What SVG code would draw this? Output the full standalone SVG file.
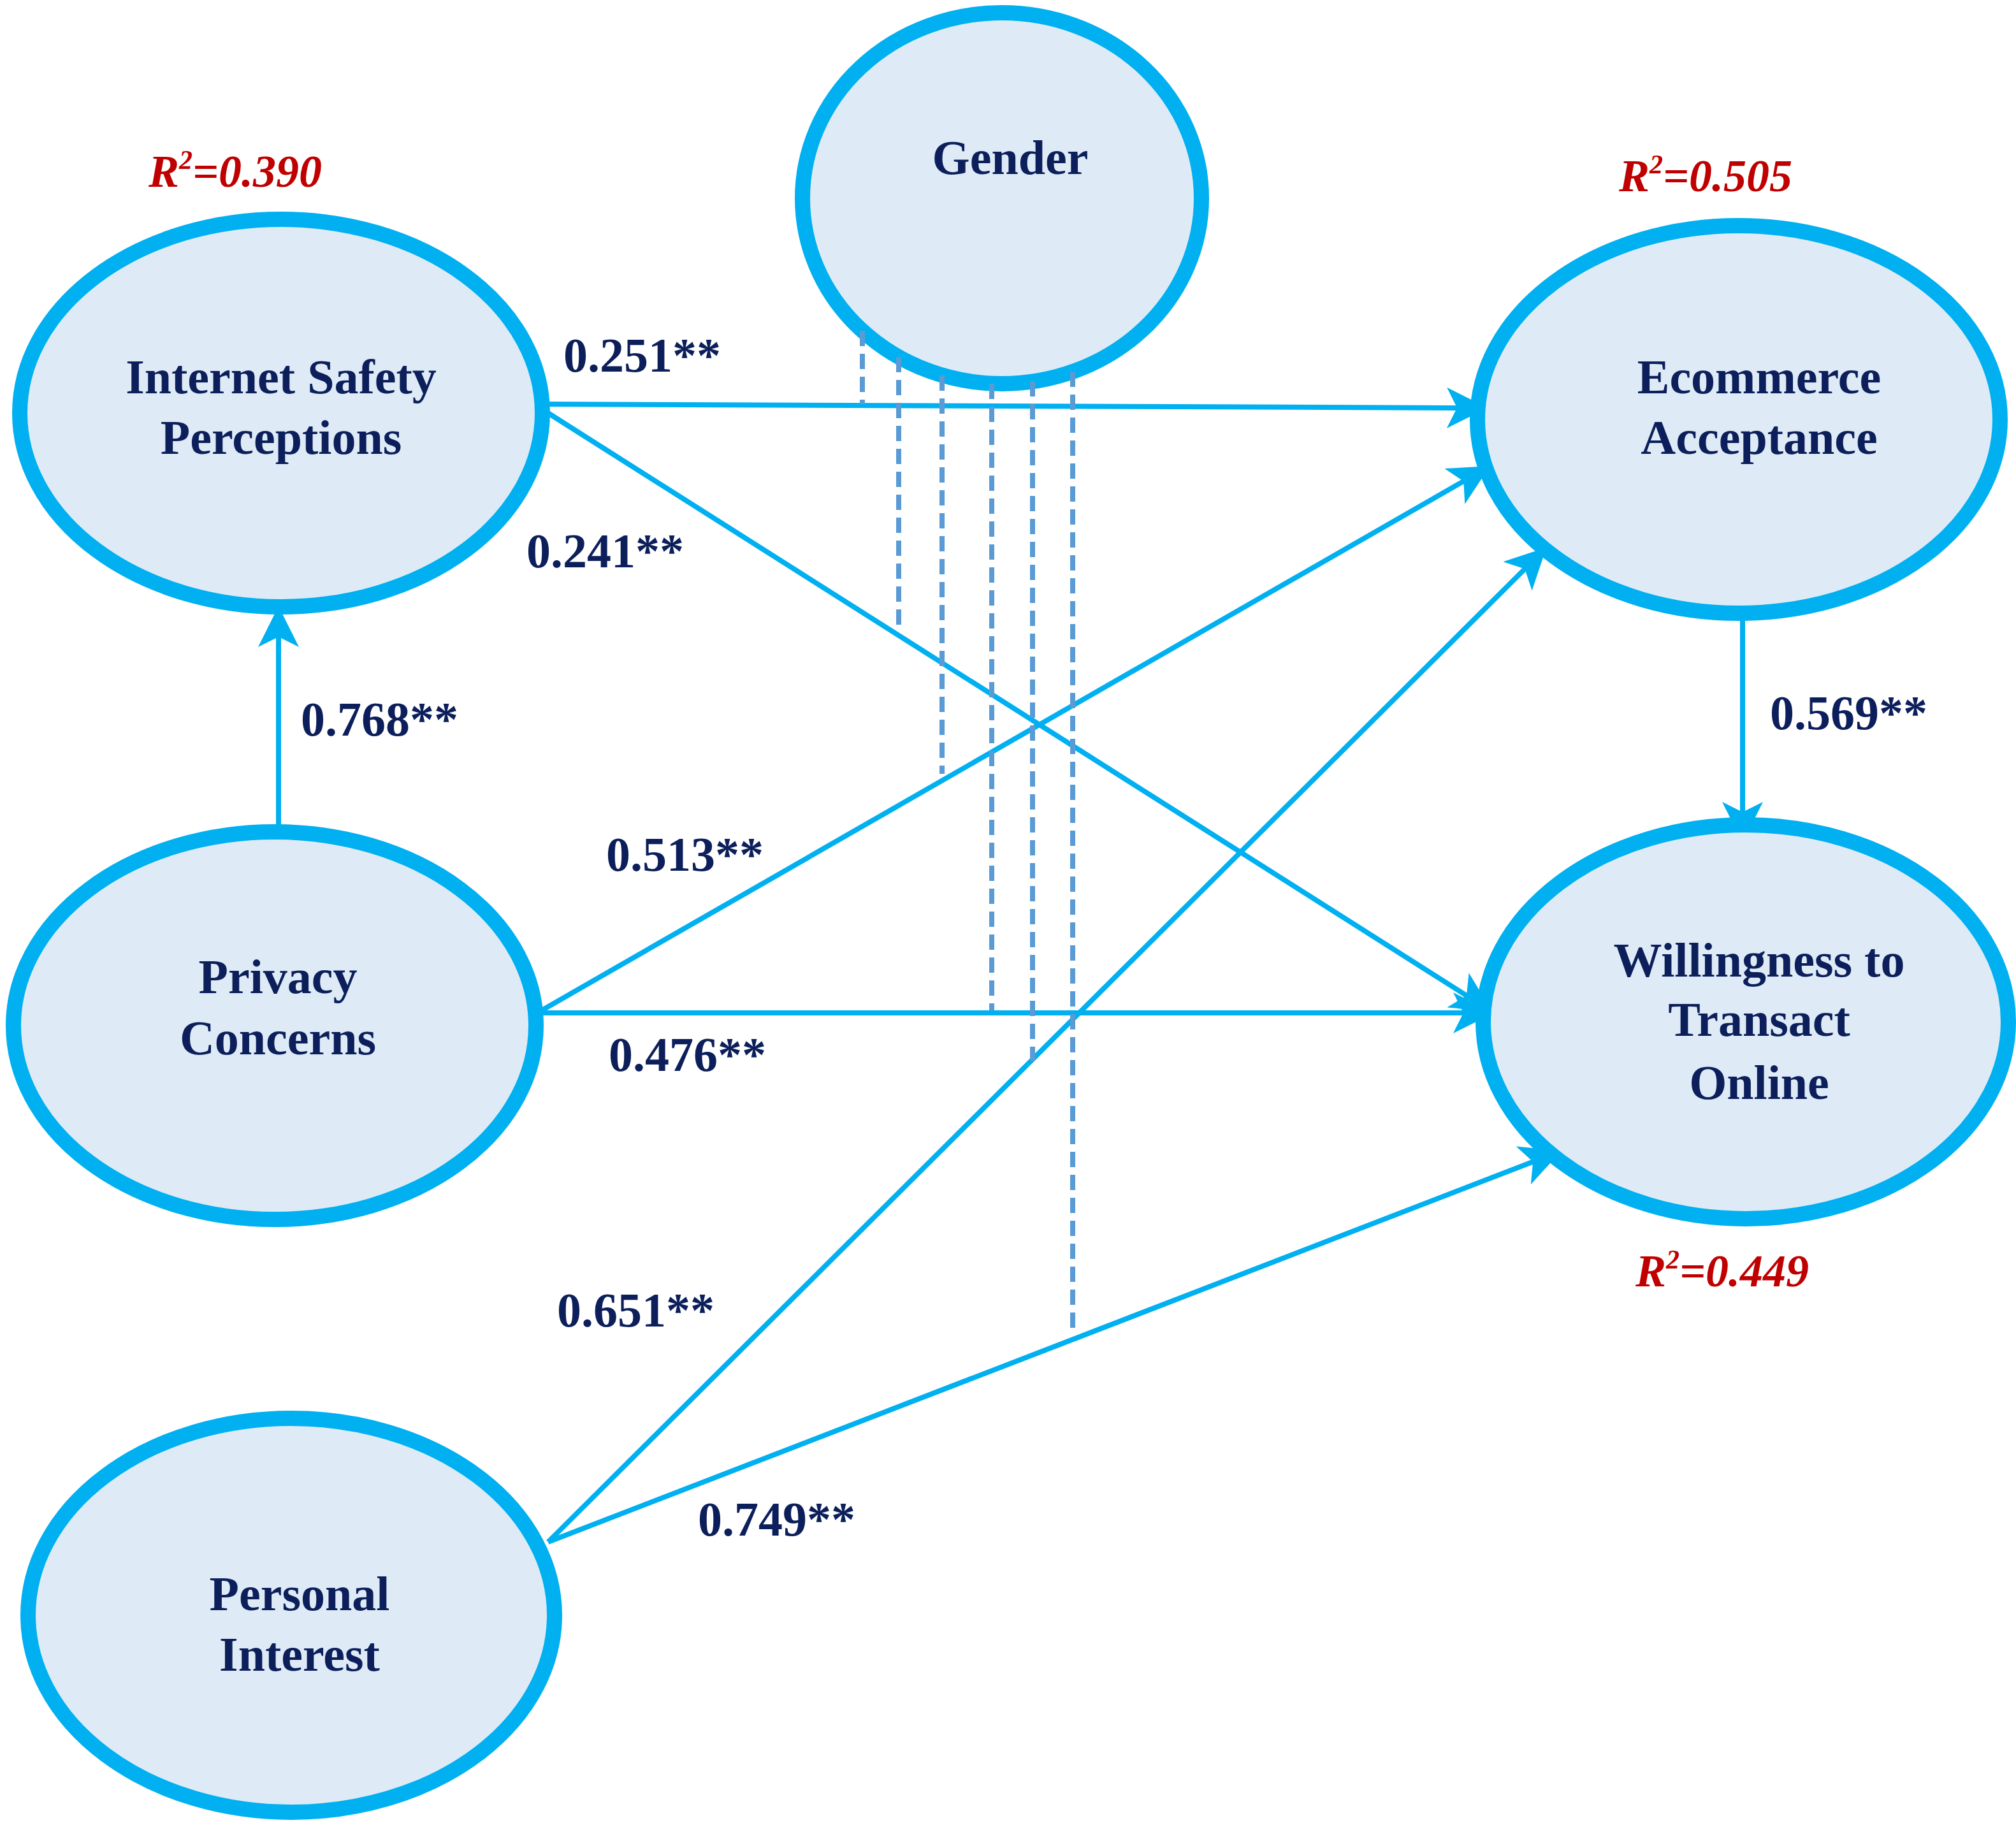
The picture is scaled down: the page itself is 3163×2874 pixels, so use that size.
<svg xmlns="http://www.w3.org/2000/svg" width="3163" height="2874" viewBox="0 0 3163 2874">
<style>
.n{fill:#deebf7;stroke:#00b0f0;stroke-width:24}
.t{font-family:"Liberation Serif",serif;font-weight:bold;font-size:76px;fill:#0c1f5b;text-anchor:middle}
.l{font-family:"Liberation Serif",serif;font-weight:bold;font-size:76px;fill:#0c1f5b}
.r{font-family:"Liberation Serif",serif;font-weight:bold;font-style:italic;font-size:72px;fill:#c00000}
.c{stroke:#00b0f0;stroke-width:8;fill:none;marker-end:url(#a)}
.d{stroke:#5b9bd5;stroke-width:8;stroke-dasharray:24 12}
</style>
<defs><marker id="a" markerWidth="8" markerHeight="8" refX="6" refY="4" orient="auto" markerUnits="strokeWidth"><path d="M0,0 L8,4 L0,8 L2,4 z" fill="#00b0f0"/></marker></defs>
<g id="connectors">
<line class="c" x1="860" y1="634" x2="2318" y2="640"/>
<line class="c" x1="860" y1="648" x2="2328" y2="1579"/>
<line class="c" x1="437" y1="1295" x2="437" y2="967"/>
<line class="c" x1="850" y1="1585" x2="2324" y2="739"/>
<line class="c" x1="850" y1="1589" x2="2328" y2="1589"/>
<line class="c" x1="860" y1="2419" x2="2415" y2="870"/>
<line class="c" x1="860" y1="2419" x2="2435" y2="1811"/>
<line class="c" x1="2734" y1="972" x2="2734" y2="1306"/>
</g>
<g id="gender"><ellipse class="n" cx="1572" cy="311" rx="313" ry="291"/><text class="t" x="1585" y="273">Gender</text></g>
<g id="moderation">
<line class="d" x1="1353" y1="519" x2="1353" y2="634"/>
<line class="d" x1="1410" y1="560" x2="1410" y2="992"/>
<line class="d" x1="1478" y1="589" x2="1478" y2="1214"/>
<line class="d" x1="1556" y1="602" x2="1556" y2="1585"/>
<line class="d" x1="1620" y1="598" x2="1620" y2="1664"/>
<line class="d" x1="1683" y1="583" x2="1683" y2="2085"/>
</g>
<g id="isp"><ellipse class="n" cx="441" cy="648" rx="410" ry="304"/><text class="t" x="441" y="617">Internet Safety</text><text class="t" x="441" y="712">Perceptions</text></g>
<g id="pc"><ellipse class="n" cx="431" cy="1609" rx="410" ry="304"/><text class="t" x="436" y="1558">Privacy</text><text class="t" x="436" y="1654">Concerns</text></g>
<g id="pi"><ellipse class="n" cx="457" cy="2534" rx="413" ry="309"/><text class="t" x="470" y="2526">Personal</text><text class="t" x="470" y="2621">Interest</text></g>
<g id="ea"><ellipse class="n" cx="2728" cy="658" rx="410" ry="304"/><text class="t" x="2760" y="617">Ecommerce</text><text class="t" x="2760" y="712">Acceptance</text></g>
<g id="wto"><ellipse class="n" cx="2739" cy="1603" rx="412" ry="309"/><text class="t" x="2760" y="1532">Willingness to</text><text class="t" x="2760" y="1625">Transact</text><text class="t" x="2760" y="1724">Online</text></g>
<g id="labels">
<text class="l" x="884" y="583">0.251**</text>
<text class="l" x="826" y="890">0.241**</text>
<text class="l" x="472" y="1154">0.768**</text>
<text class="l" x="951" y="1366">0.513**</text>
<text class="l" x="955" y="1680">0.476**</text>
<text class="l" x="874" y="2081">0.651**</text>
<text class="l" x="1095" y="2409">0.749**</text>
<text class="l" x="2777" y="1144">0.569**</text>
<text class="r" x="233" y="293">R<tspan font-size="42" dy="-28">2</tspan><tspan dy="28">=0.390</tspan></text>
<text class="r" x="2540" y="300">R<tspan font-size="42" dy="-28">2</tspan><tspan dy="28">=0.505</tspan></text>
<text class="r" x="2566" y="2018">R<tspan font-size="42" dy="-28">2</tspan><tspan dy="28">=0.449</tspan></text>
</g>
</svg>
